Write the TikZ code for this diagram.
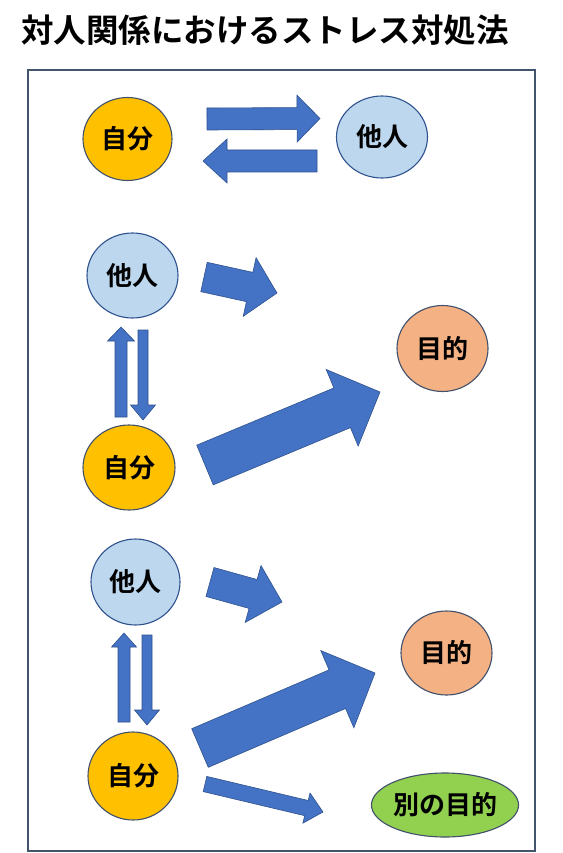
\documentclass[tikz,border=0pt]{standalone}
\usepackage{fontspec}
\setmainfont{Noto Sans CJK JP}
\newfontfamily\jpb{Noto Sans CJK JP Bold}
\usetikzlibrary{shapes.geometric,calc}
\definecolor{arrowblue}{HTML}{4472C4}
\definecolor{arrowedge}{HTML}{2F528F}
\definecolor{framecol}{HTML}{44546A}
\definecolor{selfcol}{HTML}{FFC000}
\definecolor{othercol}{HTML}{BDD7EE}
\definecolor{goalcol}{HTML}{F4B183}
\definecolor{altcol}{HTML}{92D050}
\definecolor{ringcol}{HTML}{41506B}
\tikzset{
  bubble/.style={ellipse, draw=ringcol, line width=1.1pt, inner sep=0pt,
    font=\jpb\fontsize{26}{26}\selectfont},
  self/.style={bubble, fill=selfcol},
  other/.style={bubble, fill=othercol, draw=arrowedge},
  goal/.style={bubble, fill=goalcol},
  altgoal/.style={bubble, fill=altcol},
  blockfill/.style={fill=arrowblue, draw=arrowedge, line width=0.6pt, line join=miter},
  frameline/.style={draw=framecol, line width=1.6pt}
}
% block arrow: from #1 (tail middle) to #2 (tip), shaft half width #3, head half width #4, head length #5
\newcommand\blockarr[5]{%
  \coordinate (ba-base) at ($(#2)!#5!(#1)$);
  \path[blockfill]
    ($(#1)!#3!90:(#2)$) -- ($(ba-base)!#3!90:(#2)$) -- ($(ba-base)!#4!90:(#2)$)
    -- (#2) -- ($(ba-base)!#4!-90:(#2)$) -- ($(ba-base)!#3!-90:(#2)$)
    -- ($(#1)!#3!-90:(#2)$) -- cycle;
}
\begin{document}
\begin{tikzpicture}[x=1pt,y=-1pt]
\useasboundingbox (0,0) rectangle (562,853);
\fill[white] (0,0) rectangle (562,853);
% title
\node[anchor=west, inner sep=0pt, font=\jpb\fontsize{32.5}{32.5}\selectfont] (title) at (21,30) {対人関係におけるストレス対処法};
% frame
\path[frameline] (28,70) rectangle (535,851);
% top section
\node[self, minimum width=89pt, minimum height=83pt] (self1) at (127.5,139) {自分};
\node[other, minimum width=91pt, minimum height=82pt] (other1) at (382,137) {他人};
\coordinate (r1s) at (207,119); \coordinate (r1e) at (320,118.5);
\coordinate (l1s) at (317,161); \coordinate (l1e) at (203,161);
\blockarr{r1s}{r1e}{11pt}{23.5pt}{23pt}
\blockarr{l1s}{l1e}{11pt}{22pt}{24pt}
% middle section
\node[other, minimum width=91pt, minimum height=85pt] (other2) at (132.5,275.5) {他人};
\node[self, minimum width=92pt, minimum height=85pt] (self2) at (129,467.5) {自分};
\node[goal, minimum width=91pt, minimum height=86pt] (goal2) at (442.5,348.5) {目的};
\coordinate (a2s) at (204,277); \coordinate (a2e) at (277,293);
\blockarr{a2s}{a2e}{15pt}{30pt}{28pt}
\coordinate (u2s) at (121,417); \coordinate (u2e) at (121,327);
\blockarr{u2s}{u2e}{6pt}{13.5pt}{14pt}
\coordinate (d2s) at (143,330); \coordinate (d2e) at (143,420);
\blockarr{d2s}{d2e}{5pt}{12.5pt}{15pt}
\coordinate (b2s) at (205,465); \coordinate (b2e) at (380,392);
\blockarr{b2s}{b2e}{21.5pt}{41.5pt}{41pt}
% bottom section
\node[other, minimum width=89pt, minimum height=86pt] (other3) at (135.5,582) {他人};
\node[self, minimum width=90pt, minimum height=88pt] (self3) at (133,776) {自分};
\node[goal, minimum width=91pt, minimum height=84pt] (goal3) at (446.5,653) {目的};
\node[altgoal, minimum width=117pt, minimum height=64pt] (alt3) at (445,805) {別の目的};
\coordinate (a3s) at (210,582); \coordinate (a3e) at (282,602);
\blockarr{a3s}{a3e}{15pt}{29.5pt}{30pt}
\coordinate (u3s) at (124,722); \coordinate (u3e) at (124,633);
\blockarr{u3s}{u3e}{6pt}{12.5pt}{14pt}
\coordinate (d3s) at (147,635); \coordinate (d3e) at (147,725);
\blockarr{d3s}{d3e}{5pt}{12.5pt}{15pt}
\coordinate (b3s) at (200,748); \coordinate (b3e) at (375,673);
\blockarr{b3s}{b3e}{21pt}{42pt}{41pt}
\coordinate (s3s) at (205,784); \coordinate (s3e) at (323,812);
\blockarr{s3s}{s3e}{7.8pt}{15.5pt}{17pt}
\end{tikzpicture}
\end{document}
